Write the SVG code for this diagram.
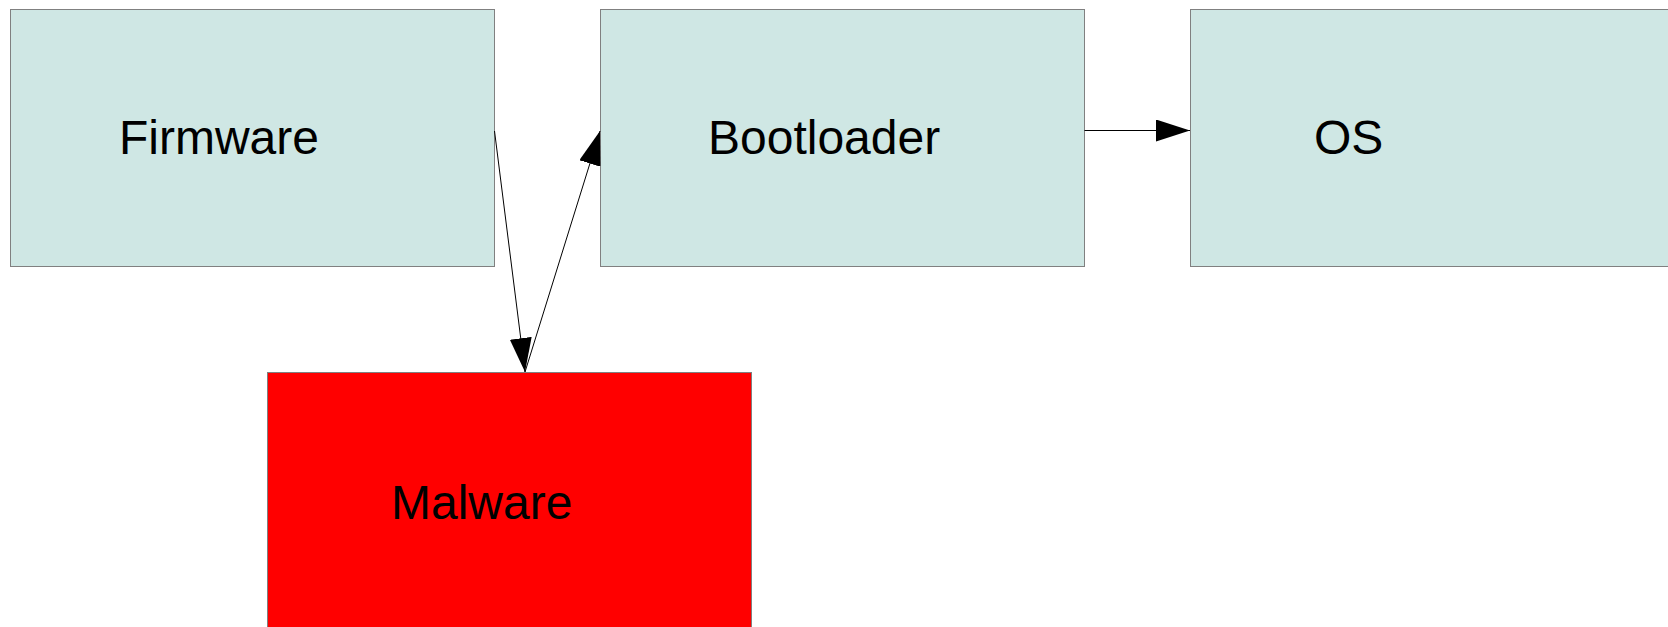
<svg xmlns="http://www.w3.org/2000/svg" width="1668" height="627" viewBox="0 0 1668 627">
<style>
.box{fill:#cfe7e4;stroke:#808080;stroke-width:1}
.bad{fill:#ff0000;stroke:#808080;stroke-width:1}
.lbl{font-family:"Liberation Sans",Arial,sans-serif;font-size:48px;fill:#000}
.edge{stroke:#000;stroke-width:1;fill:none}
</style>
<defs>
<marker id="ah" viewBox="0 0 34 22" refX="34" refY="11" markerWidth="34" markerHeight="22" markerUnits="userSpaceOnUse" orient="auto">
<path d="M0,0 L34,11 L0,22 Z" fill="#000"/>
</marker>
</defs>
<g id="firmware"><rect class="box" x="10.5" y="9.5" width="484" height="257"/><text class="lbl" x="119" y="154">Firmware</text></g>
<g id="bootloader"><rect class="box" x="600.5" y="9.5" width="484" height="257"/><text class="lbl" x="708" y="154">Bootloader</text></g>
<g id="os"><rect class="box" x="1190.5" y="9.5" width="490" height="257"/><text class="lbl" x="1314" y="154">OS</text></g>
<g id="malware"><rect class="bad" x="267.5" y="372.5" width="484" height="270"/><text class="lbl" x="391" y="519">Malware</text></g>
<g id="connectors">
<line class="edge" x1="1084.5" y1="130.5" x2="1190" y2="130.5" marker-end="url(#ah)"/>
<line class="edge" x1="494.5" y1="131" x2="525" y2="372" marker-end="url(#ah)"/>
<line class="edge" x1="525" y1="372" x2="600" y2="131" marker-end="url(#ah)"/>
</g>
</svg>
